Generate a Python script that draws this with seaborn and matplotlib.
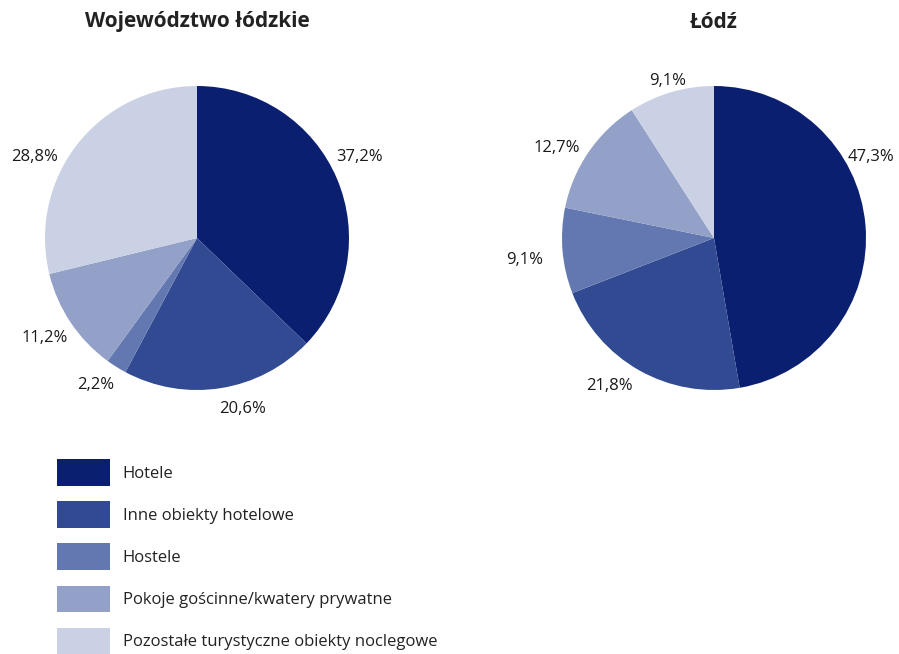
import matplotlib
matplotlib.use("Agg")
import matplotlib.pyplot as plt
from matplotlib.patches import Patch
import numpy as np
import seaborn as sns

categories = ["Hotele", "Inne obiekty hotelowe", "Hostele",
              "Pokoje gościnne/kwatery prywatne",
              "Pozostałe turystyczne obiekty noclegowe"]
woj_values = [37.2, 20.6, 2.2, 11.2, 28.8]
lodz_values = [47.3, 21.8, 9.1, 12.7, 9.1]
titles = ["Województwo łódzkie", "Łódź"]

sns.set_theme(style="white")
plt.rcParams['font.family'] = ['Open Sans', 'DejaVu Sans']

palette = sns.color_palette(["#0b1f70", "#324a92", "#6378b0", "#93a0c7", "#cbd1e5"])

W, H = 899, 654
fig = plt.figure(figsize=(W / 100, H / 100), dpi=100)

R = 152
centers = [(197, 238), (714, 238)]
# label angular shifts (degrees, style only) to mimic reference placement
label_shifts = [[4, 6, -3, -1, 11], [23, -6, 1, 4, 0]]
label_r = [[1.20, 1.15, 1.16, 1.19, 1.20], [1.17, 1.18, 1.25, 1.20, 1.09]]

for i, (vals, title) in enumerate(zip([woj_values, lodz_values], titles)):
    cx, cy = centers[i]
    ax = fig.add_axes([(cx - R) / W, 1 - (cy + R) / H, 2 * R / W, 2 * R / H])
    wedges, _ = ax.pie(vals, colors=palette, startangle=90, counterclock=False,
                       radius=1, wedgeprops=dict(linewidth=0))
    total = sum(vals)
    cum = 0
    for j, v in enumerate(vals):
        mid = 90 - (cum + v / 2) / total * 360 + label_shifts[i][j]
        cum += v
        r = label_r[i][j]
        ax.text(r * np.cos(np.radians(mid)), r * np.sin(np.radians(mid)) - 0.015,
                f"{v:.1f}%".replace(".", ","), ha="center", va="center",
                fontsize=12, color="#1a1a1a")
    ax.set_xlim(-1, 1)
    ax.set_ylim(-1, 1)
    ax.set_aspect("equal")
    ax.axis("off")
    fig.text(cx / W, 1 - 22 / H, title, ha="center", va="center",
             fontsize=15, fontweight="bold", color="#222222")

handles = [Patch(facecolor=c, edgecolor="none") for c in palette]
fig.legend(handles, categories, loc="upper left",
           bbox_to_anchor=(57 / W, 1 - 459 / H), frameon=False,
           borderpad=0, borderaxespad=0, fontsize=12,
           handlelength=3.2, handleheight=2.1, labelspacing=0.92,
           handletextpad=0.75, labelcolor="#222222")

fig.savefig("out.png", dpi=100)
